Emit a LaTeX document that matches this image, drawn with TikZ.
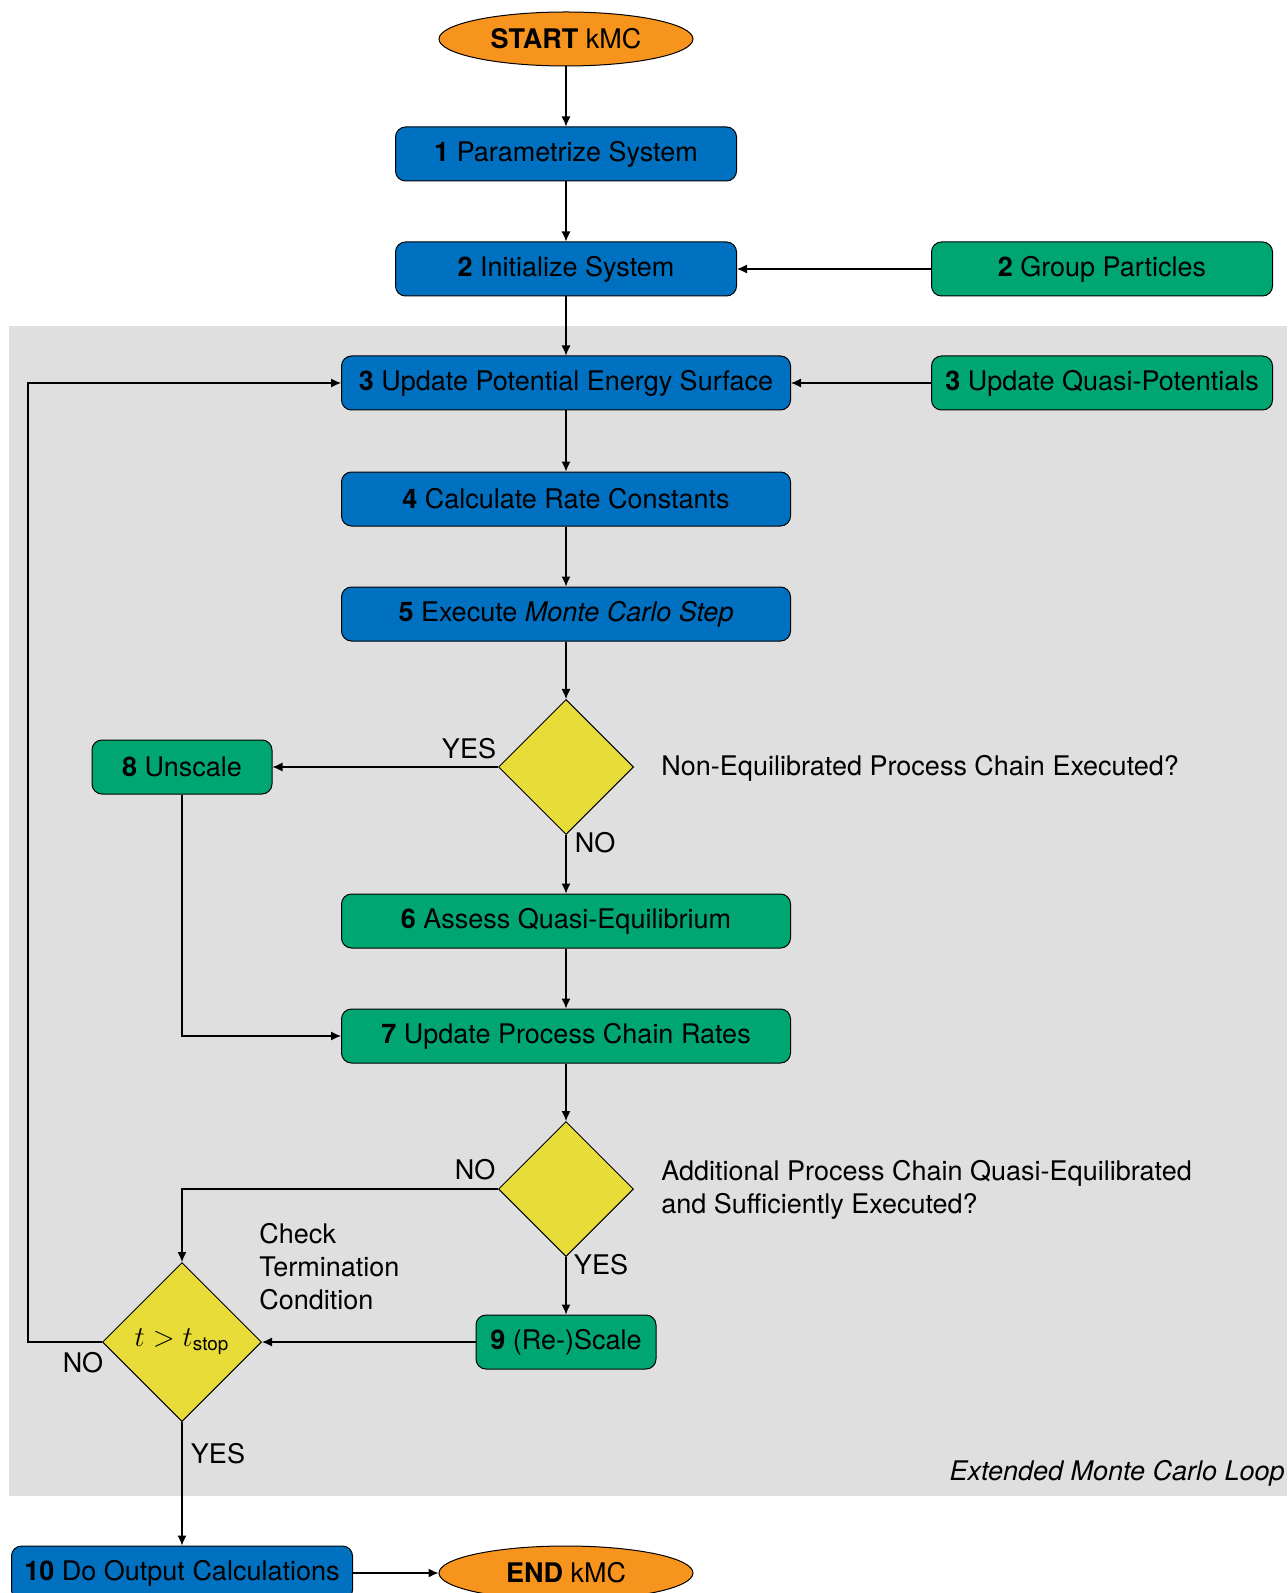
\documentclass[tikz,border=0pt]{standalone}
\usepackage{amsmath}
\usepackage{fontspec}
\setmainfont{TeX Gyre Heros}
\setsansfont{TeX Gyre Heros}
\usetikzlibrary{shapes.geometric,arrows.meta}
\definecolor{bblue}{RGB}{0,112,192}
\definecolor{bgreen}{RGB}{0,166,114}
\definecolor{borange}{RGB}{247,148,30}
\definecolor{byellow}{RGB}{232,221,56}
\definecolor{bgray}{RGB}{223,223,223}
\begin{document}
\begin{tikzpicture}[x=0.5pt,y=-0.5pt,
  txt/.style={font=\fontsize{13.5}{16.5}\selectfont},
  box/.style={txt,draw=black,line width=0.5pt,rounded corners=5pt,minimum height=27pt,inner sep=0pt},
  bluebox/.style={box,fill=bblue,minimum width=170.5pt},
  widebluebox/.style={box,fill=bblue,minimum width=224.5pt},
  greenbox/.style={box,fill=bgreen,minimum width=170.5pt},
  widegreenbox/.style={box,fill=bgreen,minimum width=224.5pt},
  smallgreenbox/.style={box,fill=bgreen,minimum width=90pt},
  terminal/.style={txt,ellipse,draw=black,line width=0.5pt,fill=borange,minimum width=127pt,minimum height=27pt,inner sep=0pt},
  decision/.style={txt,diamond,draw=black,line width=0.5pt,fill=byellow,inner sep=0pt,minimum width=67.5pt,minimum height=67.5pt},
  lbl/.style={txt,inner sep=0pt},
  arr/.style={line width=0.6pt,-{Latex[length=5pt,width=4.5pt]}}]
\useasboundingbox (0,0) rectangle (1287,1593);
\fill[bgray] (9,326) rectangle (1287,1496);

\node[terminal] (start) at (566,39) {\textbf{START} kMC};
\node[bluebox] (n1) at (566,154) {\textbf{1} Parametrize System};
\node[bluebox] (n2) at (566,269) {\textbf{2} Initialize System};
\node[greenbox] (g2) at (1102,269) {\textbf{2} Group Particles};
\node[widebluebox] (n3) at (566,383) {\textbf{3} Update Potential Energy Surface};
\node[greenbox] (q3) at (1102,383) {\textbf{3} Update Quasi-Potentials};
\node[widebluebox] (n4) at (566,499) {\textbf{4} Calculate Rate Constants};
\node[widebluebox] (n5) at (566,614) {\textbf{5} Execute \textit{Monte Carlo Step}};
\node[decision] (d1) at (566,767) {};
\node[smallgreenbox] (n8) at (182,767) {\textbf{8} Unscale};
\node[widegreenbox] (n6) at (566,921) {\textbf{6} Assess Quasi-Equilibrium};
\node[widegreenbox] (n7) at (566,1036) {\textbf{7} Update Process Chain Rates};
\node[decision] (d2) at (566,1189) {};
\node[smallgreenbox] (n9) at (566,1342) {\textbf{9} (Re-)Scale};
\node[decision,minimum width=79.5pt,minimum height=79.5pt] (d3) at (182,1342) {$t>t_{\text{stop}}$};
\node[bluebox] (n10) at (182,1573) {\textbf{10} Do Output Calculations};
\node[terminal] (end) at (566,1573) {\textbf{END} kMC};

\node[lbl,anchor=west] (t1) at (661,768) {Non-Equilibrated Process Chain Executed?};
\node[lbl,anchor=west,align=left] (t2) at (661,1190) {Additional Process Chain Quasi-Equilibrated\\and Sufficiently Executed?};
\node[lbl,anchor=west,align=left] (t3) at (259,1267) {Check\\Termination\\Condition};
\node[lbl] (yes1) at (469,749) {YES};
\node[lbl] (no1) at (595,843) {NO};
\node[lbl] (no2) at (475,1170) {NO};
\node[lbl] (yes2) at (601,1265) {YES};
\node[lbl] (no3) at (83,1363) {NO};
\node[lbl] (yes3) at (218,1454) {YES};
\node[lbl,anchor=east,font=\fontsize{13.5}{16.5}\selectfont\itshape] (loop) at (1285,1473) {Extended Monte Carlo Loop};

\coordinate (loopx) at (28,0);

\draw[arr] (start) -- (n1);
\draw[arr] (n1) -- (n2);
\draw[arr] (g2) -- (n2);
\draw[arr] (n2) -- (n3);
\draw[arr] (q3) -- (n3);
\draw[arr] (n3) -- (n4);
\draw[arr] (n4) -- (n5);
\draw[arr] (n5) -- (d1);
\draw[arr] (d1.west) -- (n8.east);
\draw[arr] (d1.south) -- (n6.north);
\draw[arr] (n6) -- (n7);
\draw[arr] (n8.south) |- (n7.west);
\draw[arr] (n7) -- (d2);
\draw[arr] (d2.west) -| (d3.north);
\draw[arr] (d2.south) -- (n9.north);
\draw[arr] (n9.west) -- (d3.east);
\draw[arr] (d3.west) -- (d3.west -| loopx) |- (n3.west);
\draw[arr] (d3.south) -- (n10.north);
\draw[arr] (n10.east) -- (end.west);
\end{tikzpicture}
\end{document}
